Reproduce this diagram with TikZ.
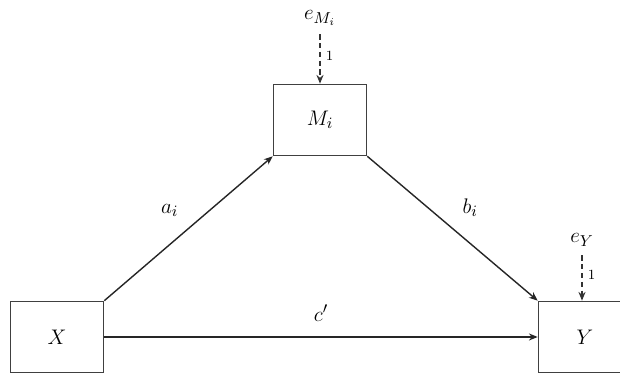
\documentclass[tikz,border=0pt]{standalone}
\usepackage{amsmath,amssymb}
\usepackage{tikz}
\usetikzlibrary{positioning,arrows.meta,calc}

\begin{document}
\begin{tikzpicture}[
    >={Stealth[length=5pt,width=4pt]},
    font=\fontsize{13}{15}\selectfont,
    box/.style={
        draw=black!75,
        line width=0.9pt,
        minimum width=1.86cm,
        minimum height=1.42cm,
        inner sep=0pt
    },
    err/.style={
        inner sep=1pt
    },
    arr/.style={->, line width=0.8pt, draw=black!85},
    darr/.style={->, line width=0.8pt, draw=black!80, dash pattern=on 3pt off 2pt},
    one/.style={font=\fontsize{8}{9}\selectfont, inner sep=1pt}
]
\useasboundingbox (0,0) rectangle (12.4,7.46);

% boxes
\node[box] (x) at (1.14,0.72) {$X$};
\node[box] (m) at (6.40,5.06) {$M_i$};
\node[box] (y) at (11.70,0.72) {$Y$};

% error terms
\node[err] (em) at (6.40,7.10) {$e_{M_i}$};
\node[err] (ey) at (11.64,2.66) {$e_{Y}$};

\draw[arr] (x.north east) -- node[midway, above left=3pt and 2pt] {$a_i$} (m.south west);
\draw[arr] (m.south east) -- node[midway, above right=3pt and 2pt] {$b_i$} (y.north west);
\draw[arr] (x.east) -- node[midway, above=5pt] {$c'$} (y.west);

\draw[darr, shorten <=4pt] (em.south -| m.north) -- node[one, right=2pt] {1} (m.north);
\draw[darr, shorten <=4pt] (ey.south) -- node[one, right=2pt] {1} (ey.south |- y.north);

\end{tikzpicture}
\end{document}
